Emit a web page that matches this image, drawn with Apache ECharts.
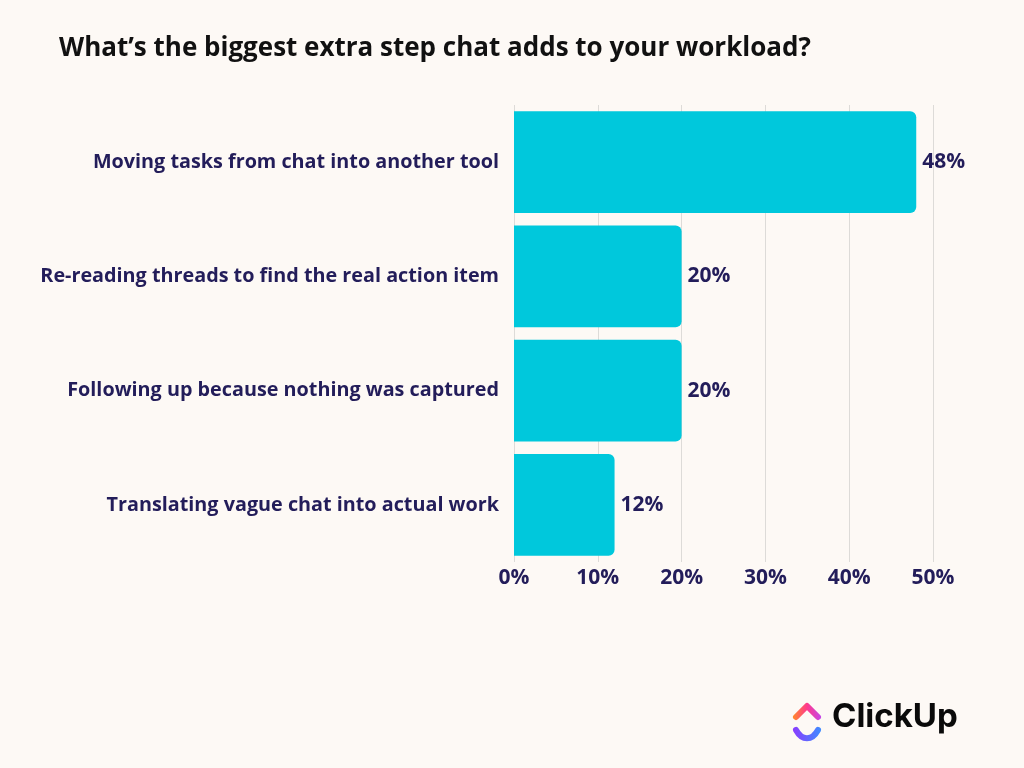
<!DOCTYPE html>
<html><head><meta charset="utf-8">
<script src="https://cdn.jsdelivr.net/npm/echarts@6/dist/echarts.min.js"></script>
<style>html,body{margin:0;padding:0;background:#fdf9f5}#c{width:1024px;height:768px}</style>
</head><body><div id="c"></div>
<script>
const title = "What’s the biggest extra step chat adds to your workload?";
const categories = [
  "Moving tasks from chat into another tool",
  "Re-reading threads to find the real action item",
  "Following up because nothing was captured",
  "Translating vague chat into actual work"
];
const values = [48, 20, 20, 12];
const xTicks = [0, 10, 20, 30, 40, 50];

const navy = '#231d5a';
const font = 'Open Sans';
const chart = echarts.init(document.getElementById('c'));
chart.setOption({
  backgroundColor: '#fdf9f5',
  animation: false,
  title: {
    text: title, left: 54, top: 31,
    textStyle: {fontFamily: font, fontWeight: 'bold', fontSize: 26, color: '#111'}
  },
  grid: {left: 514, right: 91, top: 105, bottom: 206, containLabel: false},
  xAxis: {
    type: 'value', min: xTicks[0], max: xTicks[xTicks.length-1], interval: 10,
    axisLine: {show: false}, axisTick: {show: false},
    splitLine: {lineStyle: {color: '#dddbd8', width: 1}},
    axisLabel: {formatter: v => v + '%', color: navy, fontFamily: font, fontWeight: 'bold', fontSize: 21, margin: 6}
  },
  yAxis: {
    type: 'category', data: categories, inverse: true,
    axisLine: {show: false}, axisTick: {show: false},
    axisLabel: {color: navy, fontFamily: font, fontWeight: 'bold', fontSize: 19.8, margin: 15}
  },
  series: [{
    type: 'bar', data: values, barCategoryGap: '11%',
    itemStyle: {color: '#00c8dc', borderRadius: [0, 6, 6, 0]},
    label: {show: true, position: 'right', distance: 6, formatter: p => p.value + '%',
      color: navy, fontFamily: font, fontWeight: 'bold', fontSize: 21}
  }],
  graphic: [
    {type: 'polyline', shape: {points: [[796, 717], [807, 706], [818, 717]]},
     style: {stroke: new echarts.graphic.LinearGradient(0,0,1,0,[{offset:0,color:'#ff8a2a'},{offset:0.5,color:'#ff3a8c'},{offset:1,color:'#c447e8'}]), lineWidth: 6, lineCap: 'round', lineJoin: 'round', fill: null}},
    {type: 'bezierCurve', shape: {x1: 796, y1: 730, x2: 818, y2: 730, cpx1: 802, cpy1: 741, cpx2: 812, cpy2: 741},
     style: {stroke: new echarts.graphic.LinearGradient(0,0,1,0,[{offset:0,color:'#8a3cff'},{offset:1,color:'#3f8cff'}]), lineWidth: 6, lineCap: 'round', fill: null}},
    {type: 'text', left: 832, top: 701,
     style: {text: 'ClickUp', fontFamily: 'Inter', fontWeight: 'bold', fontSize: 33, fill: '#0a0a0a'}}
  ]
});
</script></body></html>
